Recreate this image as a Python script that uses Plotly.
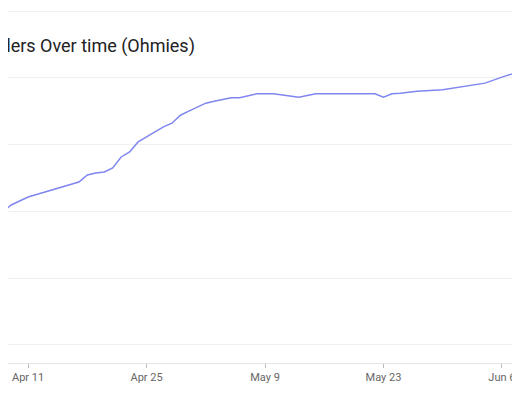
import plotly.graph_objects as go

# Ohmies count over time
dates = [
    "2021-04-08", "2021-04-09", "2021-04-11", "2021-04-13", "2021-04-16", "2021-04-17",
    "2021-04-18", "2021-04-19", "2021-04-20", "2021-04-21", "2021-04-22", "2021-04-23",
    "2021-04-24", "2021-04-26", "2021-04-27", "2021-04-28", "2021-04-29", "2021-04-30",
    "2021-05-02", "2021-05-03", "2021-05-05", "2021-05-06", "2021-05-08", "2021-05-10",
    "2021-05-12", "2021-05-13", "2021-05-15", "2021-05-18", "2021-05-20", "2021-05-22",
    "2021-05-23", "2021-05-24", "2021-05-25", "2021-05-27", "2021-05-30", "2021-06-01",
    "2021-06-04", "2021-06-06", "2021-06-08",
]
ohmies = [
    1990, 2096, 2216, 2290, 2395, 2440,
    2545, 2575, 2590, 2650, 2815, 2890,
    3040, 3190, 3265, 3320, 3440, 3500,
    3620, 3650, 3700, 3700, 3760, 3760,
    3730, 3710, 3760, 3760, 3760, 3760,
    3710, 3760, 3770, 3800, 3820, 3860,
    3920, 4010, 4090,
]
tick_dates = ["2021-04-11", "2021-04-25", "2021-05-09", "2021-05-23", "2021-06-06"]
tick_labels = ["Apr 11", "Apr 25", "May 9", "May 23", "Jun 6"]

fig = go.Figure(go.Scatter(
    x=dates, y=ohmies, mode="lines",
    line=dict(color="#7f86f0", width=1.5),
))

# page body has an 8px margin, so the figure is shifted to compensate
fig.update_layout(
    width=520, height=400,
    margin=dict(l=0, r=0, t=0, b=45),
    paper_bgcolor="white", plot_bgcolor="white",
    showlegend=False,
    font=dict(family="Roboto, Arial", color="#555"),
)
fig.add_annotation(
    text="Holders Over time (Ohmies)", xref="paper", yref="paper",
    x=189 / 520, y=0.893, xanchor="right", yanchor="middle",
    showarrow=False, font=dict(size=18, color="#222"),
)
fig.update_xaxes(
    range=["2021-04-08 15:00", "2021-06-09 02:00"],
    tickvals=tick_dates, ticktext=tick_labels,
    showgrid=False, showline=True, linecolor="#e6e6e6",
    ticks="outside", ticklen=4, tickcolor="#bbb",
    tickfont=dict(size=11, color="#666"),
)
fig.update_yaxes(
    range=[-270, 5045], dtick=1000, showticklabels=False,
    gridcolor="#f0f0f0", zeroline=False,
)

fig.write_html("out.html")
